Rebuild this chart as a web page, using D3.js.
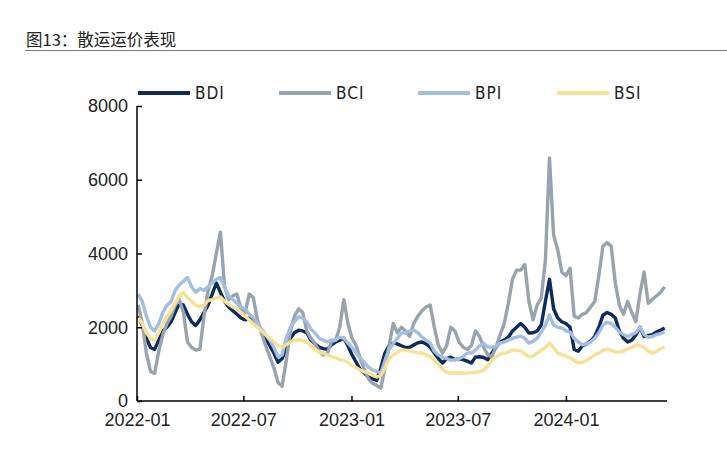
<!DOCTYPE html>
<html>
<head>
<meta charset="utf-8">
<script src="https://cdn.jsdelivr.net/npm/d3@7"></script>
<style>
  html, body { margin: 0; padding: 0; background: #fff; }
  svg { display: block; }
</style>
</head>
<body>
<svg id="chart" width="727" height="452"></svg>
<script>
// ---------- data ----------
const title = "图13：散运运价表现";
const seriesNames = ["BDI", "BCI", "BPI", "BSI"];
// weekly observations (Mondays) from 2022-01-03 to 2024-06-17
const weeks = d3.timeMonday.range(new Date(2022, 0, 3), new Date(2024, 5, 18));

const bdi = [2300,2050,1700,1450,1400,1650,1900,2000,2150,2400,2650,2600,2350,2150,2050,2200,2400,2600,2900,3200,
  2950,2700,2550,2450,2350,2250,2200,2250,2200,2050,1900,1700,1500,1300,1050,1150,1400,1700,1850,1920,
  1900,1850,1650,1550,1460,1420,1400,1520,1600,1650,1700,1500,1250,1050,850,760,650,600,560,900,
  1300,1500,1570,1550,1500,1450,1460,1520,1580,1600,1550,1460,1300,1150,1030,1150,1190,1120,1150,1120,
  1080,1030,1190,1200,1180,1120,1300,1460,1600,1650,1730,1900,2000,2100,2000,1840,1850,1900,2060,2700,
  3300,2500,2250,2150,2100,2000,1400,1350,1500,1550,1620,1750,2000,2330,2400,2350,2250,1900,1700,1600,
  1650,1790,2000,1750,1780,1800,1870,1920,1980];

const bci = [2600,2100,1300,800,750,1350,1800,2100,2300,2600,2750,2400,1600,1450,1380,1400,2300,3000,3400,4000,
  4580,3100,2750,2850,2900,2500,2380,2900,2800,2200,1840,1500,1200,900,500,400,1100,1900,2300,2500,
  2400,1900,1700,1550,1350,1250,1300,1600,1650,2000,2750,2100,1700,1500,1150,850,600,480,420,350,
  900,1500,2100,1850,2000,1900,1750,2100,2300,2450,2550,2600,2000,1500,1300,1500,2000,1900,1600,1460,
  1400,1500,1900,1750,1450,1250,1200,1460,1800,2100,2650,3300,3550,3550,3700,2700,2200,2600,2800,3800,
  6590,4500,4100,3500,3400,3600,2300,2250,2350,2400,2550,2700,3400,4200,4300,4200,3200,2600,2350,2700,
  2400,2150,2900,3500,2650,2750,2850,2950,3100];

const bpi = [2900,2700,2300,2000,1900,2100,2400,2600,2700,3000,3150,3250,3350,3100,2950,3050,3000,3100,3200,3300,
  3350,3100,2850,2750,2650,2550,2500,2350,2250,2100,1950,1800,1650,1450,1200,1250,1700,2000,2150,2280,
  2250,2150,1950,1840,1700,1650,1600,1650,1650,1730,1700,1570,1450,1300,1150,1050,920,840,800,760,
  1100,1400,1550,1700,1840,1850,1900,1920,1850,1730,1650,1570,1350,1250,1190,1150,1110,1120,1150,1200,
  1300,1300,1380,1500,1570,1460,1460,1480,1570,1600,1650,1700,1730,1760,1700,1570,1620,1700,1870,2050,
  2330,2060,2000,1980,1900,1870,1700,1600,1520,1550,1600,1700,1850,2060,2140,2100,2000,1870,1800,1750,
  1800,1850,2000,1800,1730,1750,1800,1830,1870];

const bsi = [2250,2100,1850,1700,1650,1850,2100,2300,2450,2650,2850,2950,2800,2700,2600,2550,2600,2720,2750,2800,
  2820,2700,2620,2550,2500,2400,2300,2200,2100,2000,1900,1800,1700,1600,1500,1460,1530,1600,1650,1660,
  1640,1600,1500,1400,1330,1300,1250,1200,1180,1120,1100,1050,960,900,840,790,760,700,650,700,
  900,1150,1250,1320,1380,1380,1360,1330,1310,1300,1250,1200,1120,1000,860,780,760,760,760,760,
  760,770,780,800,840,950,1100,1190,1270,1300,1330,1380,1380,1360,1280,1200,1220,1300,1380,1450,
  1570,1450,1300,1250,1220,1170,1100,1030,1050,1100,1170,1250,1300,1380,1400,1380,1330,1330,1350,1420,
  1450,1520,1500,1450,1350,1300,1350,1420,1460];

const yTicks = [0, 2000, 4000, 6000, 8000];
const xTickLabels = ["2022-01", "2022-07", "2023-01", "2023-07", "2024-01"];
const colors = ["#0d2b5c", "#99a3ae", "#a2bee3", "#f7e196"];

// ---------- chart ----------
const svg = d3.select("#chart");
const parseMonth = d3.timeParse("%Y-%m");
const x = d3.scaleTime()
  .domain([new Date(2022, 0, 1), new Date(2024, 5, 21)])
  .range([137, 667]);
const y = d3.scaleLinear().domain([0, 8000]).range([401, 106]);

// title
svg.append("text")
  .attr("x", 26).attr("y", 46)
  .attr("font-family", "'Noto Sans CJK SC', sans-serif")
  .attr("font-size", 16.5)
  .attr("fill", "#222")
  .text(title);
svg.append("line")
  .attr("x1", 25).attr("x2", 727).attr("y1", 50.5).attr("y2", 50.5)
  .attr("stroke", "#7a7a7a").attr("stroke-width", 1.2);

const seriesData = [bdi, bci, bpi, bsi];
const line = d3.line()
  .x((d, i) => x(weeks[i]))
  .y(d => y(d));

seriesData.forEach((vals, k) => {
  svg.append("path")
    .datum(vals)
    .attr("fill", "none")
    .attr("stroke", colors[k])
    .attr("stroke-width", 3.4)
    .attr("stroke-linejoin", "round")
    .attr("d", line);
});

// axes
const fontAxis = "Arial, 'Liberation Sans', sans-serif";
const yAxis = d3.axisLeft(y).tickValues(yTicks).tickSize(-5).tickPadding(10).tickFormat(d3.format("d"));
const gy = svg.append("g").attr("transform", "translate(137,0)").call(yAxis);
gy.select(".domain").attr("stroke", "#000").attr("stroke-width", 1.5).attr("d", "M0,106V401");
gy.selectAll(".tick line").attr("stroke", "#000").attr("stroke-width", 1.5).attr("x2", 5);
gy.selectAll(".tick text").attr("font-family", fontAxis).attr("font-size", 18).attr("fill", "#222")
  .attr("x", -9);

const xAxis = d3.axisBottom(x)
  .tickValues(xTickLabels.map(parseMonth))
  .tickSize(-5).tickPadding(12)
  .tickFormat(d3.timeFormat("%Y-%m"));
const gx = svg.append("g").attr("transform", "translate(0,401)").call(xAxis);
gx.select(".domain").attr("stroke", "#000").attr("stroke-width", 1.5).attr("d", "M137,0H667");
gx.selectAll(".tick line").attr("stroke", "#000").attr("stroke-width", 1.5);
gx.selectAll(".tick text").attr("font-family", fontAxis).attr("font-size", 18).attr("fill", "#222");

// legend
const legendX = [138, 279, 418, 557];
const legend = svg.append("g");
seriesNames.forEach((name, k) => {
  const g = legend.append("g").attr("transform", `translate(${legendX[k]},93)`);
  g.append("line").attr("x1", 0).attr("x2", 52).attr("y1", 0).attr("y2", 0)
    .attr("stroke", colors[k]).attr("stroke-width", 4);
  g.append("text").attr("x", 57).attr("y", 6)
    .attr("font-family", "'Liberation Sans Narrow', 'DejaVu Sans Condensed', Arial, sans-serif")
    .attr("font-size", 17).attr("letter-spacing", 1).attr("fill", "#222")
    .text(name);
});
</script>
</body>
</html>
